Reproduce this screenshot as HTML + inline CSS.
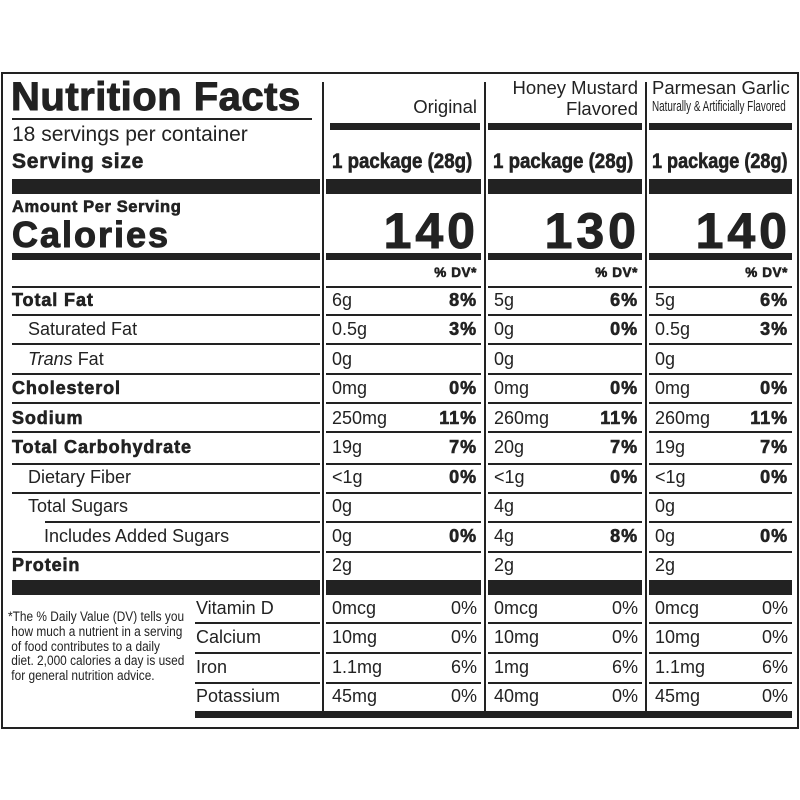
<!DOCTYPE html><html><head><style>
body{margin:0;width:800px;height:800px;background:#fff;position:relative;font-family:"Liberation Sans",sans-serif;color:#222;overflow:hidden}
div{position:absolute;white-space:nowrap}
.b{background:#222}
.t{height:29.5px;line-height:31px;font-size:18px}
.bl{font-weight:bold;-webkit-text-stroke:0.6px #222}
.t.bl{letter-spacing:0.9px}
.r{text-align:right}
</style></head><body>
<div style="left:1px;top:72px;width:794px;height:653px;border:2px solid #222"></div>
<div class="b" style="left:322px;top:82px;width:2px;height:630px"></div>
<div class="b" style="left:484px;top:82px;width:2px;height:630px"></div>
<div class="b" style="left:645px;top:82px;width:2px;height:630px"></div>
<div class="bl" style="left:11px;top:75px;font-size:40px;letter-spacing:0.5px;-webkit-text-stroke:1px #222">Nutrition Facts</div>
<div class="b" style="left:12px;top:118px;width:300px;height:1.5px"></div>
<div style="left:12px;top:123px;font-size:21px">18 servings per container</div>
<div class="bl" style="left:12px;top:150px;font-size:21px;letter-spacing:0.8px">Serving size</div>
<div class="r" style="left:330px;width:147px;top:96px;font-size:18.5px">Original</div>
<div class="r" style="left:490px;width:148px;top:77px;font-size:18.5px;line-height:21px">Honey Mustard<br>Flavored</div>
<div style="left:652px;top:77px;font-size:18.5px;line-height:21px">Parmesan Garlic</div>
<div style="left:652px;top:98px;font-size:15px;transform:scaleX(0.66);transform-origin:0 0">Naturally &amp; Artificially Flavored</div>
<div class="b" style="left:330px;top:123px;width:150px;height:7px"></div>
<div class="b" style="left:488px;top:123px;width:154px;height:7px"></div>
<div class="b" style="left:649px;top:123px;width:143px;height:7px"></div>
<div class="bl" style="left:332px;top:150px;font-size:21px;transform:scaleX(0.89);transform-origin:0 0">1 package (28g)</div>
<div class="bl" style="left:493px;top:150px;font-size:21px;transform:scaleX(0.89);transform-origin:0 0">1 package (28g)</div>
<div class="bl" style="left:652px;top:150px;font-size:21px;transform:scaleX(0.86);transform-origin:0 0">1 package (28g)</div>
<div class="b" style="left:12px;top:179px;width:308px;height:15px"></div>
<div class="b" style="left:326px;top:179px;width:155px;height:15px"></div>
<div class="b" style="left:488px;top:179px;width:154px;height:15px"></div>
<div class="b" style="left:649px;top:179px;width:143px;height:15px"></div>
<div class="bl" style="left:12px;top:198px;font-size:16.5px;letter-spacing:0.6px">Amount Per Serving</div>
<div class="bl" style="left:12px;top:214px;font-size:36px;letter-spacing:2px;-webkit-text-stroke:1px #222">Calories</div>
<div class="bl r" style="left:330px;width:149px;top:202px;font-size:50px;letter-spacing:4px;-webkit-text-stroke:1px #222">140</div>
<div class="bl r" style="left:490px;width:150px;top:202px;font-size:50px;letter-spacing:4px;-webkit-text-stroke:1px #222">130</div>
<div class="bl r" style="left:650px;width:141px;top:202px;font-size:50px;letter-spacing:4px;-webkit-text-stroke:1px #222">140</div>
<div class="b" style="left:12px;top:253px;width:308px;height:7px"></div>
<div class="b" style="left:326px;top:253px;width:155px;height:7px"></div>
<div class="b" style="left:488px;top:253px;width:154px;height:7px"></div>
<div class="b" style="left:649px;top:253px;width:143px;height:7px"></div>
<div class="bl r" style="left:400px;width:77px;top:265px;font-size:13.5px;letter-spacing:0.6px">% DV*</div>
<div class="bl r" style="left:560px;width:78px;top:265px;font-size:13.5px;letter-spacing:0.6px">% DV*</div>
<div class="bl r" style="left:710px;width:78px;top:265px;font-size:13.5px;letter-spacing:0.6px">% DV*</div>
<div class="b" style="left:12px;top:286px;width:308px;height:2px"></div>
<div class="b" style="left:12px;top:314px;width:308px;height:1.5px"></div>
<div class="b" style="left:12px;top:343px;width:308px;height:1.5px"></div>
<div class="b" style="left:12px;top:373px;width:308px;height:1.5px"></div>
<div class="b" style="left:12px;top:402px;width:308px;height:1.5px"></div>
<div class="b" style="left:12px;top:431px;width:308px;height:1.5px"></div>
<div class="b" style="left:12px;top:463px;width:308px;height:1.5px"></div>
<div class="b" style="left:12px;top:492px;width:308px;height:1.5px"></div>
<div class="b" style="left:45px;top:521px;width:275px;height:1.5px"></div>
<div class="b" style="left:12px;top:551px;width:308px;height:1.5px"></div>
<div style="left:326px;top:0;width:155px;height:800px">
<div class="b" style="left:0;top:286px;width:155px;height:2px"></div><div class="b" style="left:0;top:314px;width:155px;height:1.5px"></div><div class="b" style="left:0;top:343px;width:155px;height:1.5px"></div><div class="b" style="left:0;top:373px;width:155px;height:1.5px"></div><div class="b" style="left:0;top:402px;width:155px;height:1.5px"></div><div class="b" style="left:0;top:431px;width:155px;height:1.5px"></div><div class="b" style="left:0;top:463px;width:155px;height:1.5px"></div><div class="b" style="left:0;top:492px;width:155px;height:1.5px"></div><div class="b" style="left:0;top:521px;width:155px;height:1.5px"></div><div class="b" style="left:0;top:551px;width:155px;height:1.5px"></div>
<div class="b" style="left:0;top:622px;width:155px;height:1.5px"></div><div class="b" style="left:0;top:652px;width:155px;height:1.5px"></div><div class="b" style="left:0;top:682px;width:155px;height:1.5px"></div>
</div>
<div style="left:488px;top:0;width:154px;height:800px">
<div class="b" style="left:0;top:286px;width:154px;height:2px"></div><div class="b" style="left:0;top:314px;width:154px;height:1.5px"></div><div class="b" style="left:0;top:343px;width:154px;height:1.5px"></div><div class="b" style="left:0;top:373px;width:154px;height:1.5px"></div><div class="b" style="left:0;top:402px;width:154px;height:1.5px"></div><div class="b" style="left:0;top:431px;width:154px;height:1.5px"></div><div class="b" style="left:0;top:463px;width:154px;height:1.5px"></div><div class="b" style="left:0;top:492px;width:154px;height:1.5px"></div><div class="b" style="left:0;top:521px;width:154px;height:1.5px"></div><div class="b" style="left:0;top:551px;width:154px;height:1.5px"></div>
<div class="b" style="left:0;top:622px;width:154px;height:1.5px"></div><div class="b" style="left:0;top:652px;width:154px;height:1.5px"></div><div class="b" style="left:0;top:682px;width:154px;height:1.5px"></div>
</div>
<div style="left:649px;top:0;width:143px;height:800px">
<div class="b" style="left:0;top:286px;width:143px;height:2px"></div><div class="b" style="left:0;top:314px;width:143px;height:1.5px"></div><div class="b" style="left:0;top:343px;width:143px;height:1.5px"></div><div class="b" style="left:0;top:373px;width:143px;height:1.5px"></div><div class="b" style="left:0;top:402px;width:143px;height:1.5px"></div><div class="b" style="left:0;top:431px;width:143px;height:1.5px"></div><div class="b" style="left:0;top:463px;width:143px;height:1.5px"></div><div class="b" style="left:0;top:492px;width:143px;height:1.5px"></div><div class="b" style="left:0;top:521px;width:143px;height:1.5px"></div><div class="b" style="left:0;top:551px;width:143px;height:1.5px"></div>
<div class="b" style="left:0;top:622px;width:143px;height:1.5px"></div><div class="b" style="left:0;top:652px;width:143px;height:1.5px"></div><div class="b" style="left:0;top:682px;width:143px;height:1.5px"></div>
</div>
<div class="t bl" style="left:12px;top:285px">Total Fat</div>
<div class="t" style="left:28px;top:314px">Saturated Fat</div>
<div class="t" style="left:28px;top:344px"><i>Trans</i> Fat</div>
<div class="t bl" style="left:12px;top:373px">Cholesterol</div>
<div class="t bl" style="left:12px;top:403px">Sodium</div>
<div class="t bl" style="left:12px;top:432px">Total Carbohydrate</div>
<div class="t" style="left:28px;top:462px">Dietary Fiber</div>
<div class="t" style="left:28px;top:491px">Total Sugars</div>
<div class="t" style="left:44px;top:521px">Includes Added Sugars</div>
<div class="t bl" style="left:12px;top:550px">Protein</div>
<div class="t" style="left:332px;top:285px">6g</div><div class="t bl r" style="left:400px;width:77px;top:285px">8%</div>
<div class="t" style="left:332px;top:314px">0.5g</div><div class="t bl r" style="left:400px;width:77px;top:314px">3%</div>
<div class="t" style="left:332px;top:344px">0g</div>
<div class="t" style="left:332px;top:373px">0mg</div><div class="t bl r" style="left:400px;width:77px;top:373px">0%</div>
<div class="t" style="left:332px;top:403px">250mg</div><div class="t bl r" style="left:400px;width:77px;top:403px">11%</div>
<div class="t" style="left:332px;top:432px">19g</div><div class="t bl r" style="left:400px;width:77px;top:432px">7%</div>
<div class="t" style="left:332px;top:462px">&lt;1g</div><div class="t bl r" style="left:400px;width:77px;top:462px">0%</div>
<div class="t" style="left:332px;top:491px">0g</div>
<div class="t" style="left:332px;top:521px">0g</div><div class="t bl r" style="left:400px;width:77px;top:521px">0%</div>
<div class="t" style="left:332px;top:550px">2g</div>
<div class="t" style="left:494px;top:285px">5g</div><div class="t bl r" style="left:560px;width:78px;top:285px">6%</div>
<div class="t" style="left:494px;top:314px">0g</div><div class="t bl r" style="left:560px;width:78px;top:314px">0%</div>
<div class="t" style="left:494px;top:344px">0g</div>
<div class="t" style="left:494px;top:373px">0mg</div><div class="t bl r" style="left:560px;width:78px;top:373px">0%</div>
<div class="t" style="left:494px;top:403px">260mg</div><div class="t bl r" style="left:560px;width:78px;top:403px">11%</div>
<div class="t" style="left:494px;top:432px">20g</div><div class="t bl r" style="left:560px;width:78px;top:432px">7%</div>
<div class="t" style="left:494px;top:462px">&lt;1g</div><div class="t bl r" style="left:560px;width:78px;top:462px">0%</div>
<div class="t" style="left:494px;top:491px">4g</div>
<div class="t" style="left:494px;top:521px">4g</div><div class="t bl r" style="left:560px;width:78px;top:521px">8%</div>
<div class="t" style="left:494px;top:550px">2g</div>
<div class="t" style="left:655px;top:285px">5g</div><div class="t bl r" style="left:710px;width:78px;top:285px">6%</div>
<div class="t" style="left:655px;top:314px">0.5g</div><div class="t bl r" style="left:710px;width:78px;top:314px">3%</div>
<div class="t" style="left:655px;top:344px">0g</div>
<div class="t" style="left:655px;top:373px">0mg</div><div class="t bl r" style="left:710px;width:78px;top:373px">0%</div>
<div class="t" style="left:655px;top:403px">260mg</div><div class="t bl r" style="left:710px;width:78px;top:403px">11%</div>
<div class="t" style="left:655px;top:432px">19g</div><div class="t bl r" style="left:710px;width:78px;top:432px">7%</div>
<div class="t" style="left:655px;top:462px">&lt;1g</div><div class="t bl r" style="left:710px;width:78px;top:462px">0%</div>
<div class="t" style="left:655px;top:491px">0g</div>
<div class="t" style="left:655px;top:521px">0g</div><div class="t bl r" style="left:710px;width:78px;top:521px">0%</div>
<div class="t" style="left:655px;top:550px">2g</div>
<div class="b" style="left:12px;top:580px;width:308px;height:15px"></div>
<div class="b" style="left:326px;top:580px;width:155px;height:15px"></div>
<div class="b" style="left:488px;top:580px;width:154px;height:15px"></div>
<div class="b" style="left:649px;top:580px;width:143px;height:15px"></div>
<div class="b" style="left:195px;top:622px;width:125px;height:1.5px"></div>
<div class="b" style="left:195px;top:652px;width:125px;height:1.5px"></div>
<div class="b" style="left:195px;top:682px;width:125px;height:1.5px"></div>
<div class="b" style="left:195px;top:711px;width:597px;height:7px"></div>
<div class="t" style="left:196px;top:593px">Vitamin D</div>
<div class="t" style="left:196px;top:622px">Calcium</div>
<div class="t" style="left:196px;top:652px">Iron</div>
<div class="t" style="left:196px;top:681px">Potassium</div>
<div class="t" style="left:332px;top:593px">0mcg</div><div class="t r" style="left:400px;width:77px;top:593px">0%</div>
<div class="t" style="left:332px;top:622px">10mg</div><div class="t r" style="left:400px;width:77px;top:622px">0%</div>
<div class="t" style="left:332px;top:652px">1.1mg</div><div class="t r" style="left:400px;width:77px;top:652px">6%</div>
<div class="t" style="left:332px;top:681px">45mg</div><div class="t r" style="left:400px;width:77px;top:681px">0%</div>
<div class="t" style="left:494px;top:593px">0mcg</div><div class="t r" style="left:560px;width:78px;top:593px">0%</div>
<div class="t" style="left:494px;top:622px">10mg</div><div class="t r" style="left:560px;width:78px;top:622px">0%</div>
<div class="t" style="left:494px;top:652px">1mg</div><div class="t r" style="left:560px;width:78px;top:652px">6%</div>
<div class="t" style="left:494px;top:681px">40mg</div><div class="t r" style="left:560px;width:78px;top:681px">0%</div>
<div class="t" style="left:655px;top:593px">0mcg</div><div class="t r" style="left:710px;width:78px;top:593px">0%</div>
<div class="t" style="left:655px;top:622px">10mg</div><div class="t r" style="left:710px;width:78px;top:622px">0%</div>
<div class="t" style="left:655px;top:652px">1.1mg</div><div class="t r" style="left:710px;width:78px;top:652px">6%</div>
<div class="t" style="left:655px;top:681px">45mg</div><div class="t r" style="left:710px;width:78px;top:681px">0%</div>
<div style="left:8px;top:610px;font-size:13.5px;line-height:14.8px;transform:scaleX(0.88);transform-origin:0 0">*The % Daily Value (DV) tells you<br>&nbsp;how much a nutrient in a serving<br>&nbsp;of food contributes to a daily<br>&nbsp;diet. 2,000 calories a day is used<br>&nbsp;for general nutrition advice.</div>
</body></html>
